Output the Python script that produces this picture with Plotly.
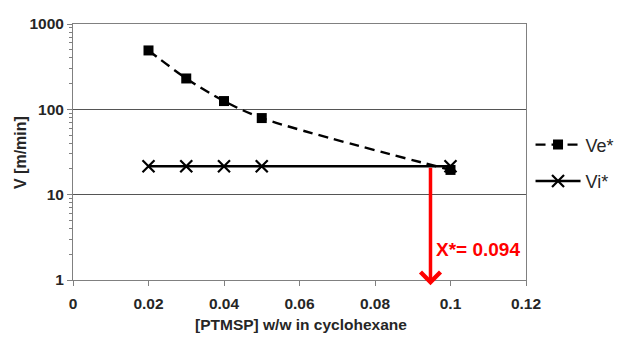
import plotly.graph_objects as go
import math

# data
x_ve = [0.02, 0.03, 0.04, 0.05, 0.10]
ve = [490, 230, 125, 79, 19.5]
x_vi = [0.02, 0.03, 0.04, 0.05, 0.10]
vi = [21.5, 21.5, 21.5, 21.5, 21.5]
x_star = 0.0947
x_star_label = "X*= 0.094"
x_ticks = [0, 0.02, 0.04, 0.06, 0.08, 0.10, 0.12]
x_tick_text = ["0", "0.02", "0.04", "0.06", "0.08", "0.1", "0.12"]
y_ticks = [1, 10, 100, 1000]
y_tick_text = ["1", "10", "100", "1000"]
y_minor = [m * 10 ** d for d in range(3) for m in range(2, 10)]

FONT = "Liberation Sans"
TXT = "#262626"

fig = go.Figure()
fig.add_trace(go.Scatter(
    x=x_ve, y=ve, name="Ve*", mode="lines+markers",
    line=dict(color="black", width=2.4, dash="10px,6px", shape="spline", smoothing=0.8),
    marker=dict(symbol="square", size=10, color="black"),
    legendgroup="a",
))
fig.add_trace(go.Scatter(
    x=x_vi, y=vi, name="Vi*", mode="lines+markers",
    line=dict(color="black", width=2.5),
    marker=dict(symbol="x-thin", size=12, color="black",
                line=dict(width=2.2, color="black")),
    legendgroup="b",
))

# red arrow
fig.add_annotation(
    x=x_star, y=math.log10(0.87), ax=x_star, ay=math.log10(vi[-1]),
    xref="x", yref="y", axref="x", ayref="y",
    text="", showarrow=True, arrowhead=4, arrowsize=1.1, arrowwidth=3.5,
    arrowcolor="#ff0000", standoff=0, startstandoff=0,
)
fig.add_annotation(
    x=x_star, y=math.log10(2.3), xref="x", yref="y",
    text="<b>" + x_star_label + "</b>", showarrow=False,
    xanchor="left", yanchor="middle", xshift=4,
    font=dict(family=FONT, size=19, color="#ff0000"),
)
# axis titles
fig.add_annotation(
    x=-0.117, y=0.5, xref="paper", yref="paper", textangle=-90,
    xanchor="center", yanchor="middle",
    text="<b>V [m/min]</b>", showarrow=False,
    font=dict(family=FONT, size=16, color=TXT),
)
fig.add_annotation(
    x=0.503, y=-0.174, xref="paper", yref="paper",
    xanchor="center", yanchor="middle",
    text="<b>[PTMSP] w/w in cyclohexane</b>", showarrow=False,
    font=dict(family=FONT, size=15.5, color=TXT),
)

# page body has an 8px margin, so the figure is 8px smaller than the window
fig.update_layout(
    width=622, height=332,
    margin=dict(l=65, r=104, t=7, b=60),
    paper_bgcolor="white", plot_bgcolor="white",
    font=dict(family=FONT, size=15, color=TXT),
    showlegend=True,
    legend=dict(
        x=1.01, xanchor="left", y=0.6, yanchor="top",
        traceorder="grouped", tracegroupgap=10,
        itemwidth=45, font=dict(family=FONT, size=18, color=TXT),
        bgcolor="rgba(0,0,0,0)",
    ),
)
fig.update_xaxes(
    range=[0, 0.12], tickvals=x_ticks, ticktext=x_tick_text,
    tickfont=dict(family=FONT, size=15.5, color=TXT, weight="bold"),
    ticks="outside", ticklen=5, tickcolor="#808080", ticklabelstandoff=4,
    ticklabeloverflow="allow",
    showline=True, linecolor="#808080", linewidth=1, mirror=True,
    showgrid=False, zeroline=False,
)
fig.update_yaxes(
    type="log", range=[0, 3], tickvals=y_ticks, ticktext=y_tick_text,
    tickfont=dict(family=FONT, size=15.5, color=TXT, weight="bold"),
    ticks="outside", ticklen=5, tickcolor="#808080",
    ticklabeloverflow="allow",
    minor=dict(tickvals=y_minor, ticks="outside", ticklen=3, tickcolor="#808080", showgrid=False),
    showline=True, linecolor="#808080", linewidth=1, mirror=True,
    showgrid=True, gridcolor="#555555", gridwidth=1, zeroline=False,
)

fig.write_html("out.html")
